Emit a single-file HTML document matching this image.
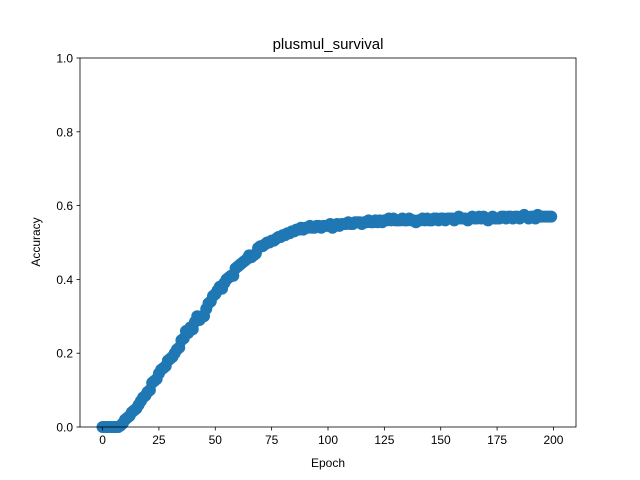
<!DOCTYPE html>
<html><head><meta charset="utf-8"><style>
body{margin:0;background:#fff;}
svg{display:block;font-family:"Liberation Sans","DejaVu Sans",sans-serif;}
</style></head><body>
<svg id="chart" width="640" height="480"></svg>
<script>
const epochs = Array.from({length:200},(_,i)=>i);
const accuracy = [
0,0,0,0,0,0,0,0,0.004,0.01,
0.02,0.025,0.03,0.04,0.045,0.05,0.06,0.07,0.08,0.085,
0.095,0.1,0.12,0.125,0.13,0.145,0.155,0.16,0.165,0.18,
0.185,0.19,0.2,0.21,0.215,0.235,0.24,0.26,0.255,0.27,
0.265,0.285,0.3,0.29,0.3,0.3,0.32,0.335,0.34,0.355,
0.36,0.37,0.38,0.375,0.39,0.4,0.405,0.41,0.41,0.43,
0.435,0.44,0.445,0.45,0.455,0.465,0.46,0.465,0.47,0.485,
0.49,0.49,0.495,0.5,0.5,0.505,0.505,0.51,0.515,0.515,
0.52,0.52,0.525,0.525,0.53,0.53,0.535,0.535,0.54,0.535,
0.54,0.54,0.545,0.54,0.54,0.545,0.545,0.54,0.545,0.545,
0.545,0.55,0.54,0.545,0.55,0.545,0.55,0.55,0.55,0.555,
0.55,0.55,0.555,0.555,0.555,0.55,0.555,0.555,0.56,0.555,
0.555,0.56,0.555,0.56,0.555,0.56,0.56,0.565,0.56,0.565,
0.56,0.56,0.56,0.565,0.56,0.56,0.565,0.56,0.56,0.555,
0.56,0.56,0.565,0.56,0.565,0.56,0.56,0.565,0.565,0.56,
0.565,0.565,0.56,0.565,0.565,0.565,0.56,0.565,0.57,0.565,
0.565,0.565,0.56,0.565,0.57,0.565,0.565,0.57,0.565,0.57,
0.565,0.56,0.565,0.57,0.565,0.565,0.565,0.57,0.57,0.565,
0.57,0.57,0.565,0.57,0.57,0.565,0.57,0.575,0.57,0.565,
0.57,0.57,0.565,0.575,0.57,0.57,0.57,0.57,0.57,0.57];
const xTicks = [0,25,50,75,100,125,150,175,200];
const yTicks = [0.0,0.2,0.4,0.6,0.8,1.0];

const L=80,R=576,T=58,B=427;
const xs=v=>L+(v+10)/220*(R-L);
const ys=v=>B-v*(B-T);
const NS='http://www.w3.org/2000/svg';
const svg=document.getElementById('chart');
function mk(tag,attrs){const e=document.createElementNS(NS,tag);for(const k in attrs)e.setAttribute(k,attrs[k]);svg.appendChild(e);return e;}

const title=mk('text',{x:328,y:49,'text-anchor':'middle','font-size':15});
title.textContent='plusmul_survival';



// series
let d='';
epochs.forEach((e,i)=>{d+=(i?'L':'M')+xs(e).toFixed(2)+' '+ys(accuracy[i]).toFixed(2);});
const line=mk('path',{d:d,fill:'none',stroke:'#1f77b4','stroke-width':1.5});


epochs.forEach((e,i)=>{
  const c=mk('circle',{cx:xs(e),cy:ys(accuracy[i]),r:6,fill:'#1f77b4'});
  
  
});

const frame=mk('rect',{x:L,y:T,width:R-L,height:B-T,fill:'none',stroke:'#000','stroke-width':0.8});



xTicks.forEach(t=>{
  const x=xs(t);
  const tk=mk('line',{x1:x,x2:x,y1:B,y2:B+3.5,stroke:'#000','stroke-width':0.8});
  
  
  const lb=mk('text',{x:x,y:B+17,'text-anchor':'middle','font-size':12});
  lb.textContent=t;
  
  
});
yTicks.forEach(t=>{
  const y=ys(t);
  const tk=mk('line',{x1:L-3.5,x2:L,y1:y,y2:y,stroke:'#000','stroke-width':0.8});
  
  
  const lb=mk('text',{x:L-7,y:y+4.5,'text-anchor':'end','font-size':12});
  lb.textContent=t.toFixed(1);
  
  
});
const xl=mk('text',{x:328,y:467,'text-anchor':'middle','font-size':12});
xl.textContent='Epoch';


const yl=mk('text',{x:0,y:0,'text-anchor':'middle','font-size':12,transform:'translate(40,242) rotate(-90)'});
yl.textContent='Accuracy';


</script>
</body></html>
